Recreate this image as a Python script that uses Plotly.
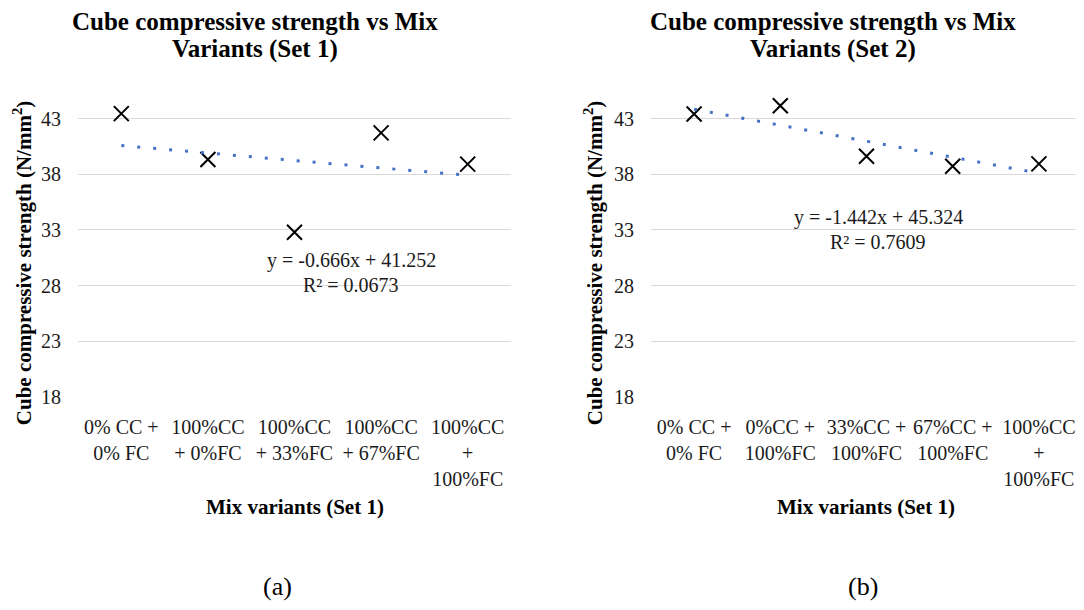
import numpy as np
import plotly.graph_objects as go

# ---- data ----
categories_set1 = ["0% CC +<br>0% FC", "100%CC<br>+ 0%FC", "100%CC<br>+ 33%FC",
                   "100%CC<br>+ 67%FC", "100%CC<br>+<br>100%FC"]
categories_set2 = ["0% CC +<br>0% FC", "0%CC +<br>100%FC", "33%CC +<br>100%FC",
                   "67%CC +<br>100%FC", "100%CC<br>+<br>100%FC"]
strength_set1 = [43.47, 39.35, 32.79, 41.74, 38.93]
strength_set2 = [43.44, 44.18, 39.63, 38.74, 38.95]
y_ticks = [18, 23, 28, 33, 38, 43]
y_range = [18, 46]
titles = [["Cube compressive strength vs Mix", "Variants (Set 1)"],
          ["Cube compressive strength vs Mix", "Variants (Set 2)"]]
x_titles = ["Mix variants (Set 1)", "Mix variants (Set 1)"]
y_title = "Cube compressive strength (N/mm<sup>2</sup>)"
equations = [["y = -0.666x + 41.252", "R² = 0.0673"],
             ["y = -1.442x + 45.324", "R² = 0.7609"]]
panel_labels = ["(a)", "(b)"]

# the page keeps the browser's 8px body margin; size the figure to fit the window
OFF = 8
W, H = 1076, 594
FONT = "Liberation Serif"
TXT = "#1a1a1a"

def px_x(p):
    return (p - OFF) / W

def px_y(p):
    return 1 - (p - OFF) / H

fig = go.Figure()

panels = [
    dict(cats=categories_set1, vals=strength_set1, xa="x", ya="y",
         x0=78, x1=511, ytitle_x=22, eq_x=351, eq_y=[265, 290],
         title_x=255, label_x=277),
    dict(cats=categories_set2, vals=strength_set2, xa="x2", ya="y2",
         x0=651, x1=1082, ytitle_x=593, eq_x=878, eq_y=[221, 246],
         title_x=833, label_x=863),
]

y_bottom_px, y_top_px = 404.0, 87.0

for i, p in enumerate(panels):
    idx = np.arange(1, len(p["vals"]) + 1)
    slope, intercept = np.polyfit(idx, p["vals"], 1)
    trend = slope * idx + intercept
    fig.add_trace(go.Scatter(
        x=p["cats"], y=p["vals"], mode="markers",
        xaxis=p["xa"], yaxis=p["ya"], showlegend=False,
        marker=dict(symbol="x-thin", size=15, line=dict(color="black", width=2))))
    fig.add_trace(go.Scatter(
        x=[p["cats"][0], p["cats"][-1]], y=[trend[0], trend[-1]],
        mode="lines", xaxis=p["xa"], yaxis=p["ya"], showlegend=False,
        line=dict(color="#4472C4", width=3, dash="3px,13px"),
        hoverinfo="skip"))

    sfx = "" if i == 0 else "2"
    fig.layout["xaxis" + sfx] = dict(
        domain=[px_x(p["x0"]), min(px_x(p["x1"]), 1.0)], anchor="y" + sfx,
        type="category", categoryorder="array", categoryarray=p["cats"],
        range=[-0.5, len(p["cats"]) - 0.5],
        showgrid=False, showline=False, zeroline=False,
        ticks="", ticklabelstandoff=16,
        tickfont=dict(family=FONT, size=20, color=TXT))
    fig.layout["yaxis" + sfx] = dict(
        domain=[px_y(y_bottom_px), px_y(y_top_px)], anchor="x" + sfx,
        range=y_range, tickvals=y_ticks, showgrid=True, gridcolor="#D9D9D9",
        gridwidth=1.3, zeroline=False, showline=False, ticks="",
        ticklabelstandoff=16,
        tickfont=dict(family=FONT, size=20, color=TXT))

    # titles
    for line, ty in zip(titles[i], [22, 50]):
        fig.add_annotation(text="<b>%s</b>" % line, x=px_x(p["title_x"]), y=px_y(ty),
                           xref="paper", yref="paper", showarrow=False,
                           xanchor="center", yanchor="middle",
                           font=dict(family=FONT, size=25, color="black"))
    # y-axis title
    fig.add_annotation(text="<b>%s</b>" % y_title, x=px_x(p["ytitle_x"]), y=px_y(268),
                       xref="paper", yref="paper", showarrow=False, textangle=-90,
                       xanchor="center", yanchor="middle",
                       font=dict(family=FONT, size=21, color="black"))
    # x-axis title
    fig.add_annotation(text="<b>%s</b>" % x_titles[i],
                       x=px_x((p["x0"] + p["x1"]) / 2), y=px_y(516),
                       xref="paper", yref="paper", showarrow=False,
                       xanchor="center", yanchor="middle",
                       font=dict(family=FONT, size=21, color="black"))
    # equation
    for line, ey in zip(equations[i], p["eq_y"]):
        fig.add_annotation(text=line, x=px_x(p["eq_x"]), y=px_y(ey),
                           xref="paper", yref="paper", showarrow=False,
                           xanchor="center", yanchor="middle",
                           font=dict(family=FONT, size=20, color=TXT))
    # panel label
    fig.add_annotation(text=panel_labels[i], x=px_x(p["label_x"]), y=px_y(597),
                       xref="paper", yref="paper", showarrow=False,
                       xanchor="center", yanchor="middle",
                       font=dict(family=FONT, size=26, color="black"))

fig.update_layout(width=W, height=H, margin=dict(l=0, r=0, t=0, b=0),
                  plot_bgcolor="white", paper_bgcolor="white",
                  font=dict(family=FONT))

fig.write_html("out.html")
